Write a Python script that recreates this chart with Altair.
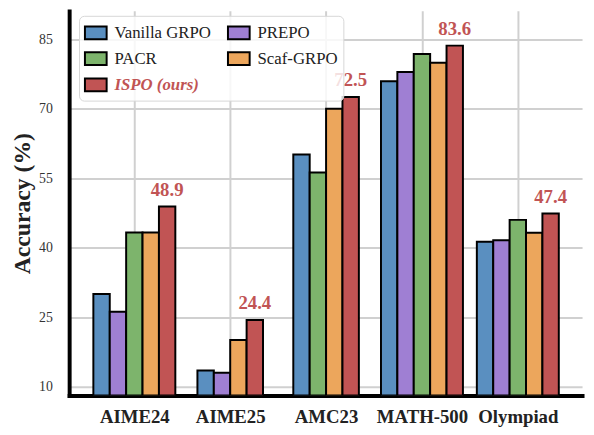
import altair as alt
import pandas as pd

categories = ["AIME24", "AIME25", "AMC23", "MATH-500", "Olympiad"]
methods = ["Vanilla GRPO", "PREPO", "PACR", "Scaf-GRPO", "ISPO (ours)"]
colors = ["#5A8FC0", "#9F7FD3", "#7DB46C", "#ECA65C", "#C15454"]
# legend is filled column by column: two columns, three rows
legend_order = ["Vanilla GRPO", "PACR", "ISPO (ours)", "PREPO", "Scaf-GRPO"]

vanilla = [30.0, 13.5, 60.1, 75.9, 41.3]
prepo = [26.2, 13.0, None, 77.9, 41.6]
pacr = [43.3, None, 56.2, 81.8, 46.0]
scaf = [43.3, 20.1, 70.0, 79.9, 43.2]
ispo = [48.9, 24.4, 72.5, 83.6, 47.4]

series = [vanilla, prepo, pacr, scaf, ispo]
bar_w = 0.171
FONT = "Times New Roman, Liberation Serif, serif"

rows = []
for ci, cat in enumerate(categories):
    present = [(mi, s[ci]) for mi, s in enumerate(series) if s[ci] is not None]
    n = len(present)
    for k, (mi, v) in enumerate(present):
        c = ci + (k - (n - 1) / 2) * bar_w
        rows.append({"category": cat, "method": methods[mi], "value": v,
                     "x0": c - bar_w / 2, "x1": c + bar_w / 2, "xc": c,
                     "label": f"{v:.1f}"})
df = pd.DataFrame(rows)

label_arr = "[" + ",".join(f"'{c}'" for c in categories) + "]"
is_ours = "datum.label == 'ISPO (ours)'"
color_of = dict(zip(methods, colors))

xscale = alt.Scale(domain=[-0.68, 4.67], nice=False, zero=False)
yscale = alt.Scale(domain=[8.1, 91.1], nice=False, zero=False)

bars = alt.Chart(df).mark_bar(stroke="black", strokeWidth=2, clip=True).encode(
    x=alt.X("x0:Q", scale=xscale,
            axis=alt.Axis(values=[0, 1, 2, 3, 4], labelExpr=f"{label_arr}[datum.value]",
                          title=None, grid=True, gridColor="#d0d0d0", gridWidth=2,
                          ticks=False, domainColor="black", domainWidth=4,
                          labelFont=FONT, labelFontWeight="bold",
                          labelFontSize=19, labelColor="#222", labelPadding=12)),
    x2="x1:Q",
    y=alt.Y("value:Q", scale=yscale,
            axis=alt.Axis(values=[10, 25, 40, 55, 70, 85], title="Accuracy (%)",
                          grid=True, gridColor="#d0d0d0", gridWidth=2,
                          ticks=False, domainColor="black", domainWidth=4,
                          labelFont=FONT, labelFontSize=14, labelFontWeight="normal",
                          labelColor="#333", labelPadding=17,
                          titleFont=FONT, titleFontWeight="bold",
                          titleFontSize=24, titleColor="#222", titlePadding=4)),
    y2=alt.datum(8.1),
    fill=alt.Color("method:N",
                   scale=alt.Scale(domain=legend_order,
                                   range=[color_of[m] for m in legend_order]),
                   legend=alt.Legend(
                       title=None, orient="none", legendX=10, legendY=5,
                       columns=2, columnPadding=13, rowPadding=3.5,
                       symbolType="M-1,-0.59H1V0.59H-1Z", symbolSize=484,
                       symbolStrokeColor="black", symbolStrokeWidth=2,
                       symbolOpacity=1, labelOffset=7,
                       labelFont=FONT, labelFontSize=17,
                       labelColor=alt.ExprRef(f"{is_ours} ? '#C15454' : '#222'"),
                       labelFontStyle=alt.ExprRef(f"{is_ours} ? 'italic' : 'normal'"),
                       labelFontWeight=alt.ExprRef(f"{is_ours} ? 'bold' : 'normal'"),
                       labelLimit=300, zindex=5,
                       fillColor="rgba(255,255,255,0.82)", strokeColor="#d6d6d6",
                       cornerRadius=5, padding=5)),
)

texts = alt.Chart(df[df["method"] == methods[-1]]).mark_text(
    font=FONT, fontWeight="bold", fontSize=19, color="#C15454",
    baseline="bottom", dy=-7).encode(
    x=alt.X("xc:Q", scale=xscale),
    y=alt.Y("value:Q", scale=yscale),
    text="label:N",
)

chart = alt.layer(bars, texts).properties(
    width=520, height=390,
    autosize=alt.AutoSizeParams(type="none"),
    padding={"left": 62, "top": 0, "right": 4, "bottom": 29},
).configure(font=FONT).configure_view(stroke=None).configure_axis(
    domainCap="square")

chart.save("out.html", embed_options={"renderer": "svg", "actions": False})
